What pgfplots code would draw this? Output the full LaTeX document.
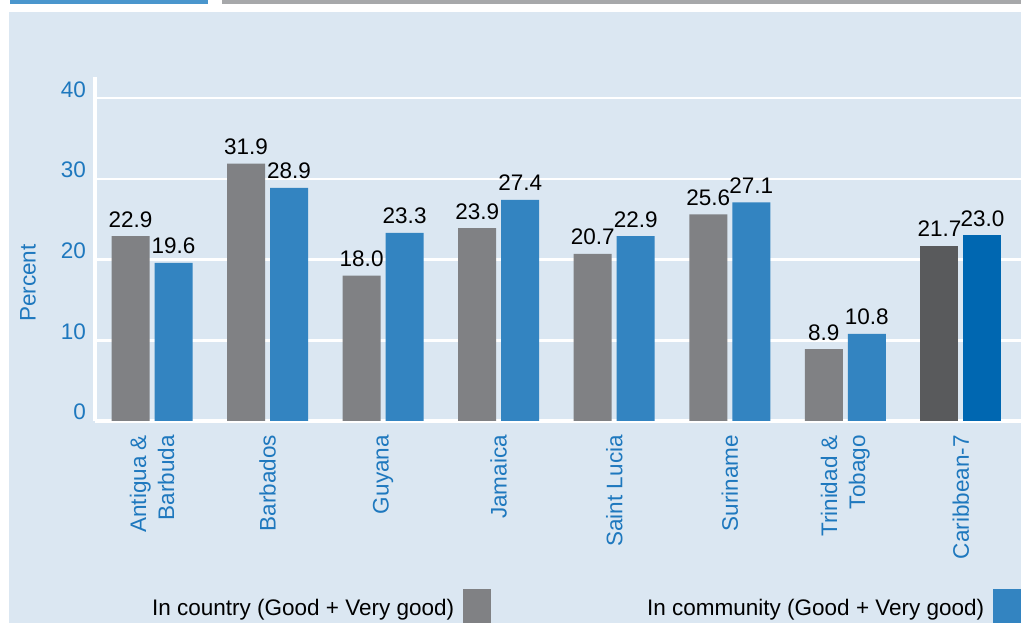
\documentclass[border=0pt]{standalone}
\usepackage{pgfplots}
\pgfplotsset{compat=1.18}
\usepackage{fontspec}
\setmainfont{Liberation Sans}
\definecolor{panel}{RGB}{219,231,242}
\definecolor{topblue}{RGB}{74,150,205}
\definecolor{topgray}{RGB}{167,168,170}
\definecolor{bgray}{RGB}{128,129,132}
\definecolor{bblue}{RGB}{51,132,193}
\definecolor{dgray}{RGB}{89,90,92}
\definecolor{dblue}{RGB}{0,103,177}
\definecolor{tickblue}{RGB}{30,120,190}
\newcommand{\fs}{\fontsize{22.5}{28}\selectfont}
\pgfplotsset{sqlegend/.style={legend image code/.code={\fill[##1] (0pt,-20pt) rectangle (28pt,19pt);}}}
\begin{document}
\begin{tikzpicture}[x=1pt,y=1pt]
\useasboundingbox (0,0) rectangle (1021,623);
\clip (0,0) rectangle (1021,623);
\fill[white] (0,0) rectangle (1021,623);
\fill[topblue] (10,619) rectangle (208,623);
\fill[topgray] (222,619) rectangle (1021,623);
\fill[panel] (9,0) rectangle (1021,611);
\begin{axis}[
  at={(95.5pt,202pt)}, anchor=south west,
  scale only axis, width=925.5pt, height=344pt,
  xmin=-0.489, xmax=7.52, ymin=0, ymax=42.63,
  ytick={0,10,20,30,40},
  xtick={0,...,7},
  xticklabels={{Antigua \&\\Barbuda},Barbados,Guyana,Jamaica,Saint Lucia,Suriname,{Trinidad \&\\Tobago},Caribbean-7},
  major tick length=0pt,
  axis x line*=bottom, axis y line*=left,
  axis line style={white, line width=4pt},
  ymajorgrids, grid style={white, line width=2.5pt},
  tick label style={font=\fs, text=tickblue},
  /pgf/number format/assume math mode=true,
  yticklabel style={anchor=base east, inner sep=0pt, xshift=-9.5pt, yshift=1pt},
  xticklabel style={rotate=90, anchor=east, inner sep=0pt, align=right},
  xticklabel shift=14pt,
  ylabel={Percent},
  ylabel style={at={(axis description cs:-0.0729,0.401)}, anchor=center, font=\fs, text=tickblue},
  nodes near coords={\pgfmathprintnumber[fixed,fixed zerofill,precision=1,assume math mode=true]{\pgfplotspointmeta}},
  nodes near coords style={font=\fs, text=black, anchor=base, inner sep=0pt, yshift=9pt},
  legend columns=2,
  legend plot pos=right,
  legend style={at={(axis description cs:0.061,-0.546)}, anchor=west, draw=none, fill=none, font=\fs, inner sep=0pt, column sep=9pt, nodes={inner sep=0pt}},
]
\addplot[ybar, sqlegend, bar width=38pt, bar shift=-21.5pt, fill=bgray, draw=none, every node near coord/.append style={xshift=-21.5pt}] coordinates {(0,22.9) (1,31.9) (2,18.0) (3,23.9) (4,20.7) (5,25.6) (6,8.9)};
\addlegendentry{In country (Good + Very good)}
\addplot[ybar, sqlegend, bar width=38pt, bar shift=21.5pt, fill=bblue, draw=none, every node near coord/.append style={xshift=21.5pt}] coordinates {(0,19.6) (1,28.9) (2,23.3) (3,27.4) (4,22.9) (5,27.1) (6,10.8)};
\addlegendentry{\hspace*{147pt}In community (Good + Very good)}
\addplot[ybar, forget plot, bar width=38pt, bar shift=-21.5pt, fill=dgray, draw=none, every node near coord/.append style={xshift=-21.5pt}] coordinates {(7,21.7)};
\addplot[ybar, forget plot, bar width=38pt, bar shift=21.5pt, fill=dblue, draw=none, every node near coord/.append style={xshift=21.5pt}] coordinates {(7,23.0)};
\end{axis}
\end{tikzpicture}
\end{document}
